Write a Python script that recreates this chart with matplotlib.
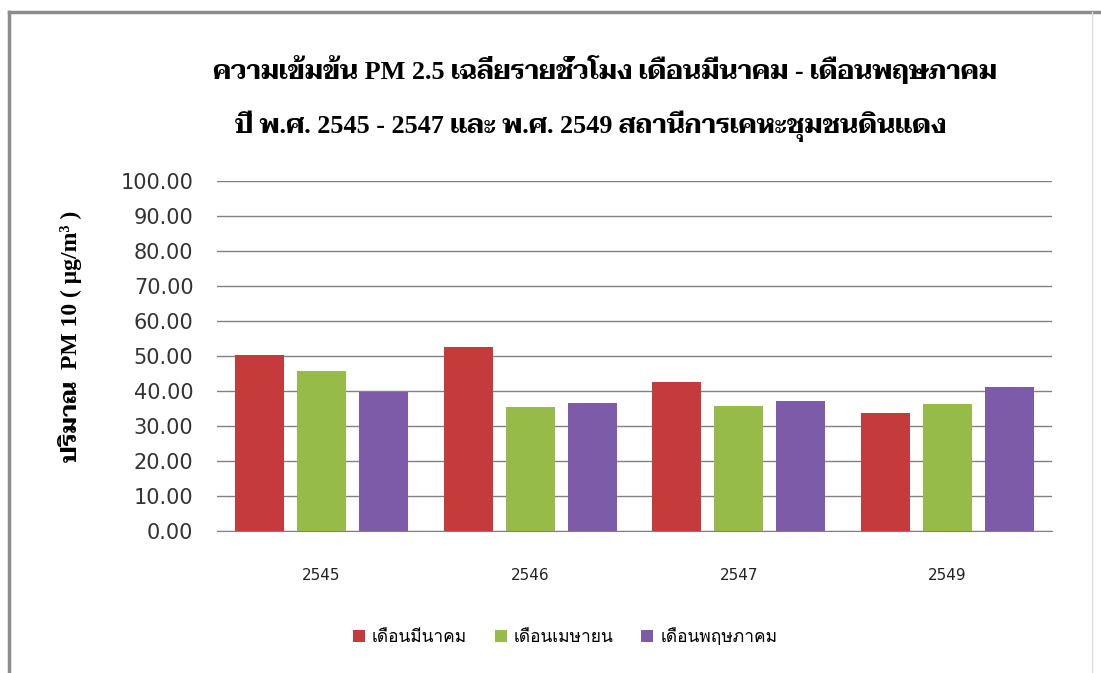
import matplotlib
matplotlib.use("Agg")
import matplotlib.pyplot as plt
import numpy as np

years = ["2545", "2546", "2547", "2549"]
series_names = ["เดือนมีนาคม", "เดือนเมษายน", "เดือนพฤษภาคม"]
march = [50.3, 52.5, 42.5, 33.8]
april = [45.8, 35.5, 35.7, 36.3]
may = [39.8, 36.7, 37.1, 41.2]
yticks = [0, 10, 20, 30, 40, 50, 60, 70, 80, 90, 100]
title1 = "ความเข้มข้น PM 2.5 เฉลี่ยรายชั่วโมง เดือนมีนาคม - เดือนพฤษภาคม"
title2 = "ปี พ.ศ. 2545 - 2547 และ พ.ศ. 2549 สถานีการเคหะชุมชนดินแดง"
ylabel = "ปริมาณ  PM 10 ( μg/m³ )"

colors = ["#C53A3A", "#97BB48", "#7E5BA8"]

serif_th = ["Liberation Serif", "Taviraj", "FreeSerif", "DejaVu Serif"]
sans_th = ["Loma", "Noto Sans Thai", "DejaVu Sans"]

W, H = 1101, 673
fig = plt.figure(figsize=(W / 100, H / 100), dpi=100)
ax = fig.add_axes([217 / W, 1 - 531 / H, (1052 - 217) / W, 350 / H])

x = np.arange(len(years))
bw = 0.235
step = 0.297
for i, (vals, c) in enumerate(zip([march, april, may], colors)):
    ax.bar(x + (i - 1) * step, vals, width=bw, color=c, label=series_names[i], zorder=3)

ax.set_xlim(-0.5, len(years) - 0.5)
ax.set_ylim(0, 100)
ax.set_yticks(yticks)
ax.set_yticklabels([f"{v:.2f}" for v in yticks], fontsize=15, color="#333333")
ax.set_xticks(x)
ax.set_xticklabels(years, fontsize=11, color="#222222")
ax.tick_params(axis="x", length=0, pad=27)
ax.tick_params(axis="y", length=0, pad=17)
ax.grid(axis="y", color="#808080", linewidth=1, zorder=0)
for s in ["top", "right", "left"]:
    ax.spines[s].set_visible(False)
ax.spines["bottom"].set_color("#808080")

fig.text(605 / W, 1 - 69 / H, title1, ha="center", va="center", fontsize=18.8,
         fontweight="bold", family=serif_th)
fig.text(591 / W, 1 - 126 / H, title2, ha="center", va="center", fontsize=18.8,
         fontweight="bold", family=serif_th)
fig.text(70 / W, 1 - 336 / H, ylabel, ha="center", va="center", rotation=90,
         fontsize=17, fontweight="bold", family=serif_th)

leg = fig.legend(loc="center", bbox_to_anchor=(565 / W, 1 - 637 / H), ncol=3,
                 frameon=False, prop={"family": sans_th, "size": 12.5},
                 handlelength=0.7, handleheight=0.7, handletextpad=0.4, columnspacing=1.6)

# border
fig.add_artist(plt.Line2D([9 / W, 9 / W], [0, 1 - 12 / H], color="#8c8c8c", lw=2.5))
fig.add_artist(plt.Line2D([9 / W, 1], [1 - 12 / H, 1 - 12 / H], color="#8c8c8c", lw=2.5))
fig.add_artist(plt.Line2D([1092 / W, 1092 / W], [0, 1 - 12 / H], color="#e0e0e0", lw=1))

fig.savefig("out.png", dpi=100)
